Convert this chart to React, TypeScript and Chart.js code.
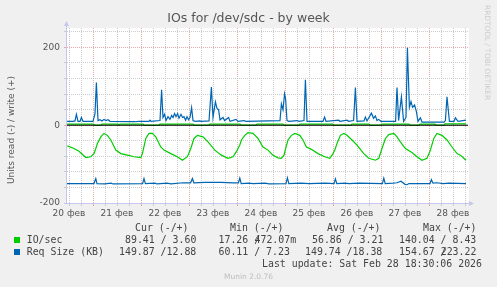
import React, { useEffect, useRef } from "react";
import { Chart, registerables } from "chart.js";

Chart.register(...registerables);

// ---- axis definitions (hours since 20 фев 00:00) ----
const X_LABELS = ["20 фев", "21 фев", "22 фев", "23 фев", "24 фев", "25 фев", "26 фев", "27 фев", "28 фев"];
const X_MIN = 11;
const X_MAX = 211.5;
const Y_MIN = -200;
const Y_MAX = 250;
const Y_LABELED = [-200, -100, 0, 100, 200];

// ---- series: [hour, value] ----
const IOSEC_READ: [number, number][] = [
  [11.2, -53], [14.5, -60], [17, -67], [20.4, -83], [22.9, -81], [24.5, -73], [25.4, -60], [26.2, -47],
  [27.9, -30], [29.5, -21], [31.2, -26], [32.9, -38], [35.4, -64], [37.9, -73], [41.2, -77], [44.5, -81],
  [47.9, -83], [48.7, -73], [50.4, -34], [52, -21], [53.7, -21], [55.4, -30], [57.9, -56], [59.5, -64],
  [62.9, -73], [66.2, -81], [68.7, -90], [71.2, -81], [72.9, -60], [74.5, -34], [76.2, -26], [79, -30],
  [81.5, -43], [84.9, -64], [88.2, -77], [91.5, -85], [94, -81], [95.7, -68], [97.4, -51], [98.2, -38],
  [99.9, -26], [101.5, -19], [104, -21], [106.5, -34], [109, -56], [111.5, -64], [114, -77], [116.5, -84],
  [118.2, -85], [119.5, -77], [120.2, -62], [121.5, -38], [123.2, -26], [124.9, -21], [127.4, -26], [129, -38],
  [130.7, -56], [133.2, -62], [136.5, -73], [139.9, -81], [142.4, -85], [144, -73], [144.9, -64], [146, -47],
  [147.7, -26], [149.4, -21], [151, -26], [153.5, -38], [156, -51], [159.4, -73], [161.9, -85], [165.2, -90],
  [166.9, -85], [168.5, -60], [170.2, -34], [171.9, -24], [174.4, -21], [176, -30], [177.7, -43], [180.2, -60],
  [183.5, -70], [186, -81], [188.5, -90], [191, -85], [192.7, -64], [194.4, -34], [196, -21], [198.5, -26],
  [201, -38], [203.5, -56], [206, -73], [207.7, -77], [209.4, -85], [210.5, -90],
];

const IOSEC_WRITE: [number, number][] = [
  [11, 3], [24, 3], [25, 0.5], [28, 0.5], [28.5, 3], [36.5, 3], [37, 0.8], [37.5, 3], [49, 3], [49.5, 0.5],
  [57, 0.5], [57.5, 3], [74, 3], [74.5, 0.5], [82, 0.5], [82.5, 3], [97.5, 3], [98, 0.5], [105.5, 0.5],
  [106, 3], [119, 3], [119.5, 0.5], [127, 0.5], [127.5, 3], [144, 3], [144.5, 0.5], [153, 0.5], [153.5, 3],
  [162, 3], [162.5, 0.5], [168, 0.5], [168.5, 3], [182, 3], [182.5, 0.5], [187, 0.5], [187.5, 3], [195, 3],
  [195.5, 0.5], [199.5, 0.5], [200, 3.6], [210.5, 3.6],
];

const REQSIZE_READ: [number, number][] = [
  [11, -150], [24.5, -150], [25.4, -137], [26, -150], [30, -151], [33, -149], [34, -151], [48.8, -150],
  [49.5, -137], [50.2, -150], [55, -149], [56, -151], [61, -149], [63, -151], [69, -148], [72.8, -148],
  [73.7, -137], [74.4, -148], [80, -147], [88, -147], [94, -148], [96.7, -148], [97.4, -136], [98.1, -150],
  [102, -149], [104, -150], [110, -149], [112, -151], [120.5, -150], [121.2, -135], [121.9, -150], [128, -149],
  [132, -150], [140, -149], [144.5, -150], [145.2, -138], [145.9, -150], [150, -149], [152, -150], [157, -149],
  [168.7, -150], [169.4, -136], [170.1, -150], [174, -149], [176, -148], [178, -144], [180, -152], [181, -153],
  [182, -150], [192.5, -150], [193.2, -140], [194, -149], [196, -148], [199, -150], [202, -149], [210.5, -150],
];

const REQSIZE_WRITE: [number, number][] = [
  [11, 10], [14, 10], [15, 11], [15.7, 28], [16.5, 10], [17.5, 10], [18.2, 20], [19, 10], [24, 10], [25, 30],
  [25.7, 110], [26.5, 12], [27.5, 14], [28.5, 11], [29.5, 15], [30.5, 12], [31.5, 14], [32.5, 10], [45, 9],
  [47, 10], [52, 10], [52.5, 13], [53, 10], [57.5, 12], [58.3, 91], [59, 20], [59.8, 28], [60.5, 12], [61.5, 22],
  [62.5, 15], [63.3, 25], [64, 20], [64.8, 30], [65.5, 22], [66.3, 30], [67, 18], [68, 28], [68.8, 20],
  [69.5, 22], [70.3, 13], [71, 22], [71.8, 14], [72.5, 20], [73.3, 45], [74, 12], [75, 10], [77.5, 11], [78, 10],
  [82, 11], [83.2, 98], [84, 20], [85.2, 60], [86, 43], [86.8, 40], [87.5, 14], [89, 20], [89.8, 12], [91.8, 20],
  [92.5, 10], [95.5, 15], [96.5, 10], [99.5, 12], [100.5, 10], [117.5, 12], [118.2, 55], [119, 40], [119.8, 81],
  [120.3, 68], [121, 12], [122, 10], [126, 12], [127, 10], [129.5, 12], [130.2, 117], [131, 10], [139, 10],
  [139.8, 21], [140.5, 10], [146.8, 13], [147.5, 10], [151, 13], [151.8, 10], [154.3, 12], [155.2, 97], [156, 10],
  [159.5, 11], [160.2, 21], [161, 11], [163.2, 31], [164.3, 18], [165.2, 24], [166, 12], [166.8, 15], [168, 10],
  [175.3, 10], [176, 97], [176.8, 12], [178.2, 73], [179.3, 10], [180.5, 20], [181.2, 199], [182.2, 46],
  [183, 61], [183.8, 46], [184.8, 52], [185.7, 35], [186.5, 10], [187.7, 19], [188.5, 8], [199.5, 8],
  [200.2, 12], [201, 73], [202.2, 10], [204.5, 10], [205.2, 19], [206.5, 10], [210.5, 13],
];

const ZERO_RULE: [number, number][] = [[X_MIN, 0], [X_MAX, 0]];

const GREEN = "#00CC00";
const BLUE = "#0066B3";
const MAJOR_GRID = "rgba(230,150,150,0.8)";
const MINOR_GRID = "rgba(195,195,195,0.85)";
const AXIS_COLOR = "#c4c8ec";
const TEXT = "#555555";

const pts = (arr: [number, number][]) => arr.map(([x, y]) => ({ x, y }));

const chartPlugin = {
  id: "rrdLook",
  beforeDraw(chart: any) {
    const { ctx, chartArea: a } = chart;
    ctx.save();
    ctx.fillStyle = "#ffffff";
    ctx.fillRect(a.left, a.top, a.right - a.left + 1, a.bottom - a.top);
    ctx.restore();
  },
  afterDraw(chart: any) {
    const { ctx, chartArea: a } = chart;
    ctx.save();
    ctx.strokeStyle = AXIS_COLOR;
    ctx.fillStyle = AXIS_COLOR;
    ctx.lineWidth = 1;
    ctx.beginPath();
    ctx.moveTo(a.left - 0.5, a.bottom + 0.5);
    ctx.lineTo(a.left - 0.5, a.top - 3);
    ctx.moveTo(a.left - 3, a.bottom + 0.5);
    ctx.lineTo(a.right + 2, a.bottom + 0.5);
    ctx.stroke();
    ctx.beginPath();
    ctx.moveTo(a.left - 3, a.top - 2);
    ctx.lineTo(a.left + 2, a.top - 2);
    ctx.lineTo(a.left - 0.5, a.top - 7);
    ctx.closePath();
    ctx.fill();
    ctx.beginPath();
    ctx.moveTo(a.right + 1, a.bottom - 2);
    ctx.lineTo(a.right + 1, a.bottom + 3);
    ctx.lineTo(a.right + 6, a.bottom + 0.5);
    ctx.closePath();
    ctx.fill();
    ctx.restore();
  },
};

export default function App() {
  const ref = useRef<HTMLCanvasElement | null>(null);

  useEffect(() => {
    if (!ref.current) return;
    const chart = new Chart(ref.current, {
      type: "line",
      data: {
        datasets: [
          { label: "zero", data: pts(ZERO_RULE), borderColor: "#000000", borderWidth: 1, order: 0 },
          { label: "Req Size write", data: pts(REQSIZE_WRITE), borderColor: BLUE, borderWidth: 1.2, order: 1 },
          { label: "Req Size read", data: pts(REQSIZE_READ), borderColor: BLUE, borderWidth: 1.2, order: 2 },
          { label: "IO/sec write", data: pts(IOSEC_WRITE), borderColor: GREEN, borderWidth: 1.2, order: 3 },
          { label: "IO/sec read", data: pts(IOSEC_READ), borderColor: GREEN, borderWidth: 1.2, order: 4 },
        ],
      },
      options: {
        animation: false,
        responsive: false,
        devicePixelRatio: 1,
        parsing: false as any,
        elements: { point: { radius: 0 }, line: { tension: 0, fill: false } },
        layout: { padding: { left: 0, top: 28, right: 29, bottom: 0 } },
        plugins: { legend: { display: false }, title: { display: false }, tooltip: { enabled: false } },
        scales: {
          x: {
            type: "linear",
            min: X_MIN,
            max: X_MAX,
            afterFit: (s: any) => { s.height = 84; },
            afterBuildTicks: (s: any) => {
              const t: any[] = [];
              for (let h = 12; h <= X_MAX; h += 6) t.push({ value: h });
              s.ticks = t;
            },
            grid: {
              color: (c: any) => (c.tick && c.tick.value % 24 === 0 ? MAJOR_GRID : MINOR_GRID),
              tickColor: (c: any) => (c.tick && c.tick.value % 24 === 0 ? MAJOR_GRID : MINOR_GRID),
              lineWidth: 1,
              drawTicks: true,
              tickLength: 3,
              tickBorderDash: [],
            },
            border: { display: false, dash: [1, 1] },
            ticks: {
              autoSkip: false,
              maxRotation: 0,
              padding: 2,
              color: TEXT,
              font: { family: "DejaVu Sans", size: 9 },
              callback: (v: any) => {
                const h = Number(v);
                if (h % 24 === 12) return X_LABELS[(h - 12) / 24] ?? "";
                return "";
              },
            },
          },
          y: {
            type: "linear",
            min: Y_MIN,
            max: Y_MAX,
            afterFit: (s: any) => { s.width = 67; },
            afterBuildTicks: (s: any) => {
              const t: any[] = [];
              for (let v = Y_MIN; v < Y_MAX; v += 20) t.push({ value: v });
              s.ticks = t;
            },
            grid: {
              color: (c: any) => (c.tick && Y_LABELED.includes(c.tick.value) ? MAJOR_GRID : MINOR_GRID),
              tickColor: (c: any) => (c.tick && Y_LABELED.includes(c.tick.value) ? MAJOR_GRID : MINOR_GRID),
              lineWidth: 1,
              drawTicks: true,
              tickLength: 3,
              tickBorderDash: [],
            },
            border: { display: false, dash: [1, 1] },
            ticks: {
              padding: 4,
              color: TEXT,
              font: { family: "DejaVu Sans", size: 9 },
              callback: (v: any) => (Y_LABELED.includes(Number(v)) ? String(v) : ""),
            },
          },
        },
      },
      plugins: [chartPlugin],
    } as any);
    return () => chart.destroy();
  }, []);

  const mono: React.CSSProperties = {
    position: "absolute",
    fontFamily: "'DejaVu Sans Mono', monospace",
    fontSize: "9.9px",
    lineHeight: "12px",
    color: "#444",
    whiteSpace: "pre",
  };
  const T = (x: number, y: number, s: string) => (
    <div style={{ ...mono, left: x, top: y }}>{s}</div>
  );

  return (
    <div style={{ position: "fixed", left: 0, top: 0, width: 497, height: 287, background: "#f0f0f0", overflow: "hidden" }}>
      <canvas ref={ref} width={497} height={287} style={{ position: "absolute", left: 0, top: 0, width: 497, height: 287 }} />
      <div style={{ position: "absolute", left: 0, top: 11.8, width: 497, textAlign: "center", fontFamily: "'DejaVu Sans'", fontSize: "12.5px", lineHeight: "12.5px", color: TEXT, whiteSpace: "pre" }}>
        IOs for /dev/sdc - by week
      </div>
      <div style={{ position: "absolute", left: 10.5 - 100, top: 130 - 6, width: 200, height: 12, textAlign: "center", fontFamily: "'DejaVu Sans'", fontSize: "9px", lineHeight: "12px", color: TEXT, transform: "rotate(-90deg)", whiteSpace: "pre" }}>
        Units read (-) / write (+)
      </div>
      <div style={{ position: "absolute", left: 482.6, top: 5, width: 8, fontFamily: "'DejaVu Sans'", fontSize: "7.4px", lineHeight: "8px", color: "#cccccc", writingMode: "vertical-rl", whiteSpace: "pre" }}>
        RRDTOOL / TOBI OETIKER
      </div>
      {T(135, 221.8, "Cur (-/+)")}
      {T(230, 221.8, "Min (-/+)")}
      {T(327, 221.8, "Avg (-/+)")}
      {T(423, 221.8, "Max (-/+)")}
      <div style={{ position: "absolute", left: 14, top: 237, width: 6, height: 6, background: GREEN }} />
      {T(26.7, 233.8, "IO/sec")}
      {T(125, 233.8, "89.41 / 3.60")}
      {T(218.5, 233.8, "17.26 /")}
      {T(254.5, 233.8, "472.07m")}
      {T(312, 233.8, "56.86 / 3.21")}
      {T(399, 233.8, "140.04 / 8.43")}
      <div style={{ position: "absolute", left: 14, top: 249, width: 6, height: 6, background: BLUE }} />
      {T(26.7, 246, "Req Size (KB)")}
      {T(119, 246, "149.87 /12.88")}
      {T(218.5, 246, "60.11 / 7.23")}
      {T(305, 246, "149.74 /18.38")}
      {T(399, 246, "154.67 /")}
      {T(440.7, 246, "223.22")}
      {T(262, 257.8, "Last update: Sat Feb 28 18:30:06 2026")}
      <div style={{ position: "absolute", left: 0, top: 271.9, width: 497, textAlign: "center", fontFamily: "'DejaVu Sans'", fontSize: "7.5px", lineHeight: "9px", color: "#bdbdbd", whiteSpace: "pre" }}>
        Munin 2.0.76
      </div>
    </div>
  );
}
